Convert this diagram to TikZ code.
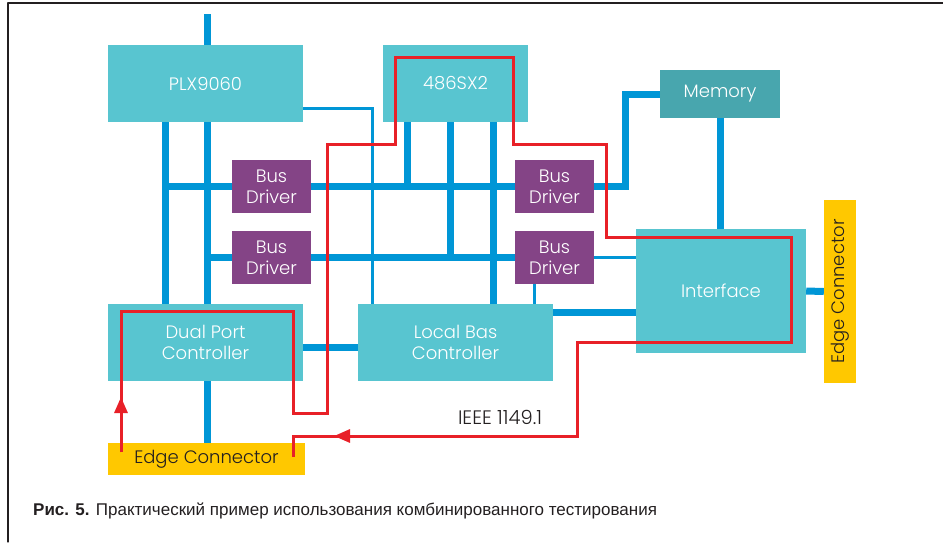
\documentclass[tikz,border=0pt]{standalone}
\usepackage{fontspec}
\setmainfont{Poppins}[UprightFont=* Light,BoldFont=* Medium]
\newfontfamily\regfont{Poppins}
\newfontfamily\capfont{Liberation Sans}
\usetikzlibrary{arrows.meta,backgrounds}
\definecolor{boxteal}{RGB}{88,197,208}
\definecolor{memteal}{RGB}{72,166,174}
\definecolor{drvpurple}{RGB}{132,68,134}
\definecolor{busblue}{RGB}{0,150,214}
\definecolor{edgeyellow}{RGB}{255,200,0}
\definecolor{jtagred}{RGB}{232,32,40}
\definecolor{inkgrey}{RGB}{35,31,32}
\tikzset{
  chip/.style={fill=boxteal,text=white,minimum width=195,minimum height=77,inner sep=0pt,align=center,font=\fontsize{18}{21}\selectfont},
  driver/.style={fill=drvpurple,text=white,minimum width=79,minimum height=53,inner sep=0pt,align=center,font=\fontsize{18}{21}\selectfont},
  connector/.style={fill=edgeyellow,text=inkgrey,minimum height=32,inner sep=0pt,font=\fontsize{18}{21}\selectfont},
  tagtext/.style={text=inkgrey,inner sep=0pt,font=\fontsize{19.5}{22}\selectfont},
  bus/.style={busblue,line width=7pt,line cap=butt,line join=miter},
  thinbus/.style={busblue,line width=3pt,line cap=butt,line join=miter},
  jtag/.style={jtagred,line width=3pt,line cap=butt,line join=miter},
  frameline/.style={inkgrey,line width=1.2pt}
}
\begin{document}
\begin{tikzpicture}[line cap=round,line join=round,>={Triangle[length=16pt,width=13pt]},x=1pt,y=-1pt]
\useasboundingbox (0,0) rectangle (943,542);
\draw[frameline] (8,542) -- (8,3) -- (943,3);
% blocks
\node[chip] (plx) at (205.5,83.5) {PLX9060};
\node[chip,minimum width=145] (cpu) at (455.5,83.5) {486SX2};
\node[chip,fill=memteal,minimum width=120,minimum height=48] (mem) at (720,94) {Memory};
\node[driver] (bd1) at (271.5,186.5) {Bus\\Driver};
\node[driver] (bd2) at (271.5,257.5) {Bus\\Driver};
\node[driver] (bd3) at (554.5,186.5) {Bus\\Driver};
\node[driver] (bd4) at (554.5,257.5) {Bus\\Driver};
\node[chip,minimum width=170,minimum height=124] (iface) at (721,291) {Interface};
\node[connector,rotate=90,minimum width=183] (edgeR) at (840,291.5) {Edge Connector};
\node[chip] (dpc) at (205.5,342.5) {Dual Port\\Controller};
\node[chip] (lbc) at (455.5,342.5) {Local Bas\\Controller};
\node[connector,minimum width=197] (edgeB) at (206.5,459) {Edge Connector};
\node[tagtext] (ieee) at (500,417) {IEEE 1149.1};
\node[tagtext,anchor=west,font=\capfont\fontsize{17}{20}\selectfont] (caption) at (33,511)
  {\textbf{Рис. 5.} Практический пример использования комбинированного тестирования};
% buses
\begin{scope}[on background layer]
  \coordinate (pci) at (207,14);
  \coordinate (xa) at (165,0);
  \coordinate (xb) at (207,0);
  \coordinate (xc) at (407,0);
  \coordinate (xd) at (450,0);
  \coordinate (xe) at (493,0);
  \coordinate (xm) at (625,0);
  \coordinate (xl) at (372,0);
  \coordinate (ylx) at (0,108);
  \coordinate (ylb) at (0,312);
  \draw[bus] (pci) -- (pci |- plx.north);
  \draw[bus] (xa |- plx.south) -- (xa |- dpc.north);
  \draw[bus] (xb |- plx.south) -- (xb |- edgeB.north);
  \draw[bus] (xa |- bd1) -- (bd3.center) -| (xm |- mem) -- (mem.west);
  \draw[bus] (xb |- bd2) -- (bd4.center);
  \draw[bus] (xc |- cpu.south) -- (xc |- bd1);
  \draw[bus] (xd |- cpu.south) -- (xd |- bd2);
  \draw[bus] (xe |- cpu.south) -- (xe |- lbc.north);
  \draw[bus] (mem.south) -- (mem.south |- iface.north);
  \draw[bus] ([yshift=-4.5pt]dpc.east) -- ([yshift=-4.5pt]lbc.west);
  \draw[bus] (lbc.east |- ylb) -- (iface.west |- ylb);
  \draw[bus] (iface.east) -- (edgeR.north);
  \draw[thinbus] (plx.east |- ylx) -| (xl |- lbc.north);
  \draw[thinbus] (bd4.east) -- (iface.west |- bd4.east);
  \draw[thinbus] ([xshift=-20pt]bd4.south) -- ([xshift=-20pt]bd4.south |- lbc.north);
\end{scope}
% test path
\coordinate (jtagin) at (121,452);
\coordinate (jtagout) at (293,457);
\draw[jtag] (jtagin) |- (293,311) |- (327,413) |- (395,144) |- (513,57) |- (606,144)
  |- (791,237) |- (577,342) |- (293,436) -- (jtagout);
\draw[jtag,->] (jtagin) -- (121,397);
\draw[jtag,->] (360,436) -- (334,436);
\end{tikzpicture}
\end{document}
